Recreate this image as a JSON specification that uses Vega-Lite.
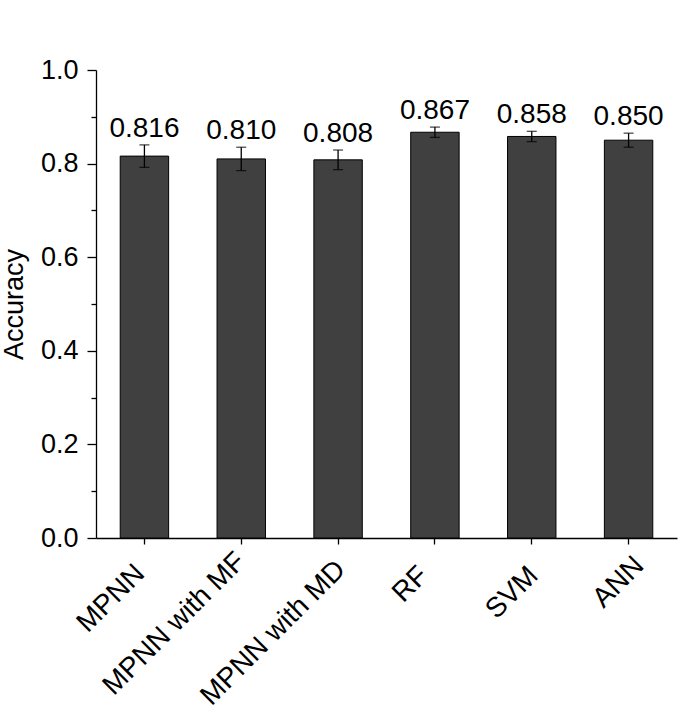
{
  "$schema": "https://vega.github.io/schema/vega-lite/v6.json",
  "autosize": "none",
  "padding": {"left": 96, "top": 70, "right": 18, "bottom": 175},
  "width": 581,
  "height": 468,
  "background": "white",
  "config": {
    "font": "Liberation Sans",
    "view": {"stroke": null},
    "axis": {
      "grid": false,
      "domainColor": "black",
      "domainWidth": 1.3,
      "tickColor": "black",
      "tickWidth": 1.3,
      "labelColor": "black",
      "titleColor": "black",
      "labelFont": "Liberation Sans",
      "titleFont": "Liberation Sans"
    }
  },
  "data": {
    "values": [
      {"model": "MPNN", "accuracy": 0.816, "lower": 0.792, "upper": 0.840},
      {"model": "MPNN with MF", "accuracy": 0.810, "lower": 0.785, "upper": 0.835},
      {"model": "MPNN with MD", "accuracy": 0.808, "lower": 0.787, "upper": 0.829},
      {"model": "RF", "accuracy": 0.867, "lower": 0.856, "upper": 0.878},
      {"model": "SVM", "accuracy": 0.858, "lower": 0.847, "upper": 0.869},
      {"model": "ANN", "accuracy": 0.850, "lower": 0.835, "upper": 0.865}
    ]
  },
  "encoding": {
    "x": {
      "field": "model",
      "type": "nominal",
      "sort": null,
      "scale": {"paddingInner": 0.5, "paddingOuter": 0.25},
      "axis": {
        "title": null,
        "labelAngle": -45,
        "labelAlign": "right",
        "labelBaseline": "middle",
        "labelFontSize": 28,
        "labelLimit": 400,
        "tickSize": 6,
        "labelOffset": {
          "condition": [
            {"test": "datum.value == 'MPNN'", "value": -4},
            {"test": "datum.value == 'MPNN with MD'", "value": 3},
            {"test": "datum.value == 'RF'", "value": -11},
            {"test": "datum.value == 'SVM'", "value": 2},
            {"test": "datum.value == 'ANN'", "value": 11}
          ],
          "value": 0
        },
        "labelPadding": {
          "condition": [
            {"test": "datum.value == 'MPNN'", "value": 25},
            {"test": "datum.value == 'MPNN with MF'", "value": 13},
            {"test": "datum.value == 'MPNN with MD'", "value": 21},
            {"test": "datum.value == 'RF'", "value": 27},
            {"test": "datum.value == 'SVM'", "value": 27}
          ],
          "value": 17
        }
      }
    }
  },
  "layer": [
    {
      "mark": {"type": "bar", "fill": "#404040", "stroke": "black", "strokeWidth": 1},
      "encoding": {
        "y": {
          "field": "accuracy",
          "type": "quantitative",
          "title": "Accuracy",
          "scale": {"domain": [0, 1], "nice": false},
          "axis": {
            "title": "Accuracy",
            "titleFontSize": 27,
            "titleFontWeight": "normal",
            "titlePadding": 12,
            "labelFontSize": 27,
            "labelPadding": 9,
            "values": [0, 0.1, 0.2, 0.3, 0.4, 0.5, 0.6, 0.7, 0.8, 0.9, 1.0],
            "labelExpr": "round(datum.value * 10) % 2 == 0 ? format(datum.value, '.1f') : ''",
            "tickSize": {"condition": {"test": "round(datum.value * 10) % 2 == 0", "value": 9}, "value": 5}
          }
        }
      }
    },
    {
      "mark": {
        "type": "errorbar",
        "ticks": {"size": 10, "thickness": 1.3, "color": "black"},
        "rule": {"strokeWidth": 1.3, "color": "black"}
      },
      "encoding": {
        "y": {"field": "lower", "type": "quantitative", "title": "Accuracy"},
        "y2": {"field": "upper"}
      }
    },
    {
      "mark": {"type": "text", "baseline": "alphabetic", "dy": -8, "fontSize": 28, "color": "black"},
      "encoding": {
        "y": {"field": "upper", "type": "quantitative", "title": "Accuracy"},
        "text": {"field": "accuracy", "type": "quantitative", "format": ".3f"}
      }
    }
  ]
}
